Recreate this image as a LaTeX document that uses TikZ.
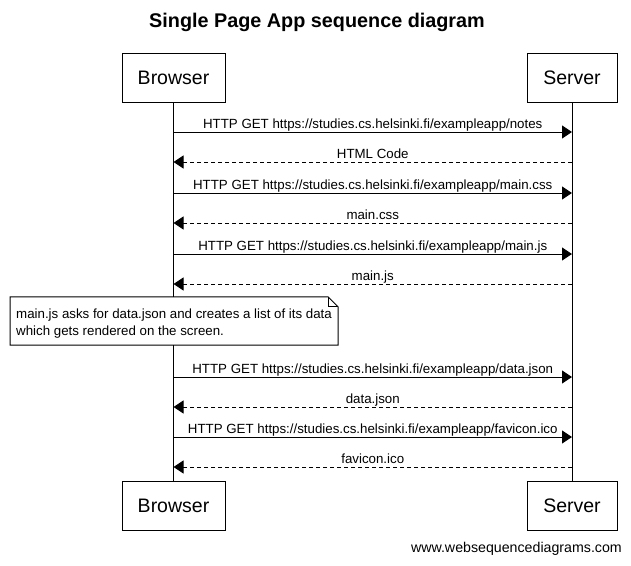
\documentclass[tikz,border=0pt]{standalone}
\usepackage{fontspec}
\setmainfont{Liberation Sans}
\usepackage{tikz}
\usetikzlibrary{arrows.meta, positioning, calc}

\tikzset{
  actor/.style={draw, line width=1pt, minimum height=49pt, inner sep=0pt, font=\fontsize{19.5}{22}\selectfont},
  msg/.style={line width=1pt, -{Triangle[length=10pt,width=13pt]}},
  reply/.style={msg, dash pattern=on 4pt off 3pt},
  lbl/.style={above, inner sep=1pt, text height=10pt, text depth=2pt, font=\fontsize{13.3}{15}\selectfont},
  lifeline/.style={line width=1pt}
}

\begin{document}
\begin{tikzpicture}[x=1pt, y=-1pt]
  \useasboundingbox (0,0) rectangle (631,565);

  \node[font=\bfseries\fontsize{19.8}{22}\selectfont] (title) at (317, 22) {Single Page App sequence diagram};

  % actors, top and bottom
  \node[actor, minimum width=103pt] (browser) at (173.5, 77.5) {Browser};
  \node[actor, minimum width=90pt] (server) at (572, 77.5) {Server};
  \node[actor, minimum width=103pt] (browserEnd) at (173.5, 505.5) {Browser};
  \node[actor, minimum width=90pt] (serverEnd) at (572, 505.5) {Server};

  \draw[lifeline] (browser.south) -- (browserEnd.north);
  \draw[lifeline] (server.south) -- (serverEnd.north);

  % message end points on the lifelines
  \coordinate (b1) at (173.5, 132);  \coordinate (s1) at (572, 132);
  \coordinate (b2) at (173.5, 162);  \coordinate (s2) at (572, 162);
  \coordinate (b3) at (173.5, 193);  \coordinate (s3) at (572, 193);
  \coordinate (b4) at (173.5, 223);  \coordinate (s4) at (572, 223);
  \coordinate (b5) at (173.5, 254);  \coordinate (s5) at (572, 254);
  \coordinate (b6) at (173.5, 284);  \coordinate (s6) at (572, 284);
  \coordinate (b7) at (173.5, 377);  \coordinate (s7) at (572, 377);
  \coordinate (b8) at (173.5, 407);  \coordinate (s8) at (572, 407);
  \coordinate (b9) at (173.5, 437);  \coordinate (s9) at (572, 437);
  \coordinate (b10) at (173.5, 467); \coordinate (s10) at (572, 467);

  \draw[msg] (b1) -- node[lbl] {HTTP GET https://studies.cs.helsinki.fi/exampleapp/notes} (s1);
  \draw[reply] (s2) -- node[lbl] {HTML Code} (b2);
  \draw[msg] (b3) -- node[lbl] {HTTP GET https://studies.cs.helsinki.fi/exampleapp/main.css} (s3);
  \draw[reply] (s4) -- node[lbl] {main.css} (b4);
  \draw[msg] (b5) -- node[lbl] {HTTP GET https://studies.cs.helsinki.fi/exampleapp/main.js} (s5);
  \draw[reply] (s6) -- node[lbl] {main.js} (b6);

  % note over browser
  \node[fill=white, anchor=west, minimum height=48pt, inner xsep=6pt, inner ysep=0pt, align=left, font=\fontsize{13.3}{17}\selectfont] (note) at (10, 321) {\rule{0pt}{14.5pt}main.js asks for data.json and creates a list of its data\\which gets rendered on the screen.};
  \draw[line width=1pt] (note.north west) -- ([xshift=-10pt]note.north east) -- ([yshift=-10pt]note.north east) -- (note.south east) -- (note.south west) -- cycle;
  \draw[line width=1pt] ([xshift=-10pt]note.north east) |- ([yshift=-10pt]note.north east);

  \draw[msg] (b7) -- node[lbl] {HTTP GET https://studies.cs.helsinki.fi/exampleapp/data.json} (s7);
  \draw[reply] (s8) -- node[lbl] {data.json} (b8);
  \draw[msg] (b9) -- node[lbl] {HTTP GET https://studies.cs.helsinki.fi/exampleapp/favicon.ico} (s9);
  \draw[reply] (s10) -- node[lbl] {favicon.ico} (b10);

  \node[anchor=east, inner sep=0pt, font=\fontsize{14.2}{16}\selectfont] (footer) at (622, 549) {www.websequencediagrams.com};
\end{tikzpicture}
\end{document}
